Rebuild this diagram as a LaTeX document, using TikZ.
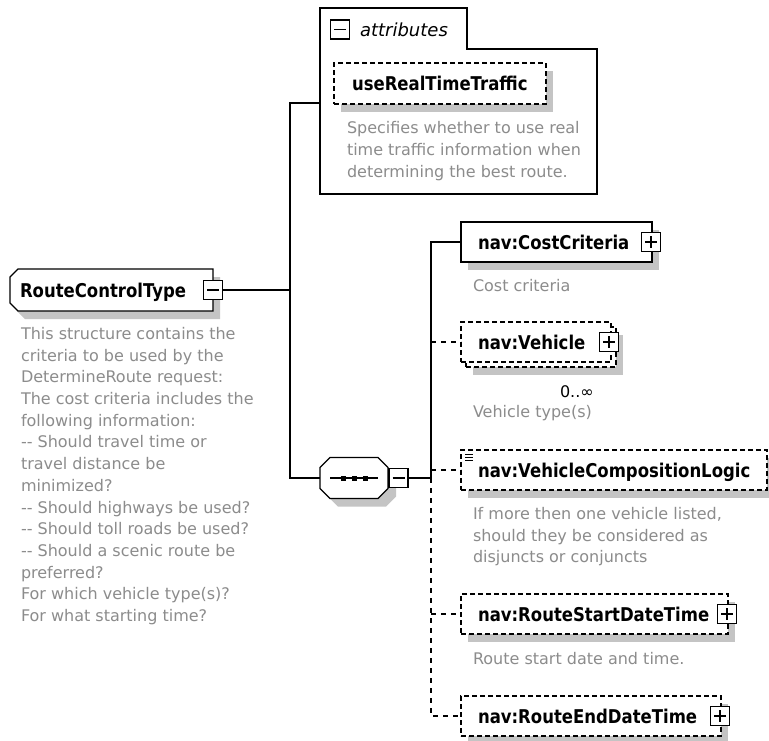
\documentclass[tikz,border=0pt]{standalone}
\usepackage{fontspec}
\setmainfont{DejaVu Sans}
\usepackage{graphicx}
\usetikzlibrary{calc,shadows}
\definecolor{shadowgray}{RGB}{196,196,196}
\definecolor{descgray}{RGB}{140,140,140}
\newcommand{\nmtxt}[1]{\scalebox{1}[1.15]{#1}}
\begin{document}
\begin{tikzpicture}[x=1pt,y=-1pt,
  every node/.style={inner sep=0pt, outer sep=0pt},
  line/.style={line width=1.3pt, black},
  dline/.style={line width=1.3pt, black, dash pattern=on 5pt off 5pt},
  shadowed/.style={drop shadow={shadow xshift=7pt, shadow yshift=-8pt, fill=shadowgray, opacity=1, draw=none}},
  elembox/.style={draw=black, line width=1.3pt, fill=white, rectangle, minimum height=40pt},
  optbox/.style={elembox, dash pattern=on 5pt off 3pt},
  holder/.style={draw=none, rectangle},
  pmbox/.style={draw=black, line width=1.3pt, fill=white, rectangle, minimum width=19pt, minimum height=19pt},
  nametext/.style={anchor=base west, font=\fontsize{16.5}{18}\selectfont\bfseries},
  desctext/.style={anchor=north west, align=left, text=descgray, font=\fontsize{16}{21.7}\selectfont},
  descline/.style={anchor=base west, text=descgray, font=\fontsize{16}{21.7}\selectfont},
]
\useasboundingbox (0,0) rectangle (769,740);
\fill[white] (0,0) rectangle (769,740);

% ---------- root ----------
\node[holder, minimum width=203pt, minimum height=42pt] (root) at (111.5,290) {};
\fill[shadowgray, shift={(7,8)}] (18,269) -- (213,269) -- (213,311) -- (18,311) -- (10,303) -- (10,277) -- cycle;
\draw[line, fill=white] (18,269) -- (213,269) -- (213,311) -- (18,311) -- (10,303) -- (10,277) -- cycle;
\node[nametext] (roottxt) at (20,297) {\nmtxt{RouteControlType}};
\node[pmbox] (rootpm) at (213,290) {};
\draw[line] ($(rootpm.center)+(-6,0)$) -- ($(rootpm.center)+(6,0)$);
\node[desctext] (rootdesc) at (21,327.3) {This structure contains the\\criteria to be used by the\\DetermineRoute request:\\The cost criteria includes the\\following information:\\-{}- Should travel time or\\travel distance be\\minimized?\\-{}- Should highways be used?\\-{}- Should toll roads be used?\\-{}- Should a scenic route be\\preferred?\\For which vehicle type(s)?\\For what starting time?};

% ---------- attributes ----------
\node[holder, minimum width=277pt, minimum height=186pt] (attr) at (458.5,101) {};
\draw[line, fill=white] (320,194) -- (320,8) -- (467,8) -- (467,49) -- (597,49) -- (597,194) -- cycle;
\node[pmbox] (attrpm) at (340,29.5) {};
\draw[line] ($(attrpm.center)+(-6,0)$) -- ($(attrpm.center)+(6,0)$);
\node[anchor=base west, font=\fontsize{18}{20}\selectfont\itshape] (attrlbl) at (360,36) {attributes};
\node[optbox, shadowed, minimum width=212pt, minimum height=41pt] (urt) at (440,83.5) {};
\node[nametext] (urttxt) at (352,90) {\nmtxt{useRealTimeTraffic}};
\node[desctext] (urtdesc) at (347,121.8) {Specifies whether to use real\\time traffic information when\\determining the best route.};

% ---------- sequence ----------
\node[holder, minimum width=68pt, minimum height=41pt] (seq) at (354,478) {};
\fill[shadowgray, shift={(8,8)}] (330,457.5) -- (378,457.5) -- (388,467.5) -- (388,488.5) -- (378,498.5) -- (330,498.5) -- (320,488.5) -- (320,467.5) -- cycle;
\draw[line, fill=white] (330,457.5) -- (378,457.5) -- (388,467.5) -- (388,488.5) -- (378,498.5) -- (330,498.5) -- (320,488.5) -- (320,467.5) -- cycle;
\draw[line] (330,478) -- (378,478);
\fill (340.5,475.5) rectangle (345.5,480.5);
\fill (351.5,475.5) rectangle (356.5,480.5);
\fill (362.5,475.5) rectangle (367.5,480.5);
\node[pmbox] (seqpm) at (398.5,478) {};
\draw[line] ($(seqpm.center)+(-6,0)$) -- ($(seqpm.center)+(6,0)$);

% ---------- children ----------
\node[elembox, shadowed, minimum width=191pt] (cc) at (556.5,242) {};
\node[nametext] (cctxt) at (478,249) {\nmtxt{nav:CostCriteria}};
\node[pmbox] (ccpm) at (651,242) {};
\draw[line] ($(ccpm.center)+(-6,0)$) -- ($(ccpm.center)+(6,0)$);
\draw[line] ($(ccpm.center)+(0,-6)$) -- ($(ccpm.center)+(0,6)$);
\node[descline] (ccdesc) at (473,291.5) {Cost criteria};

\node[optbox, shadowed, minimum width=150pt] (vehb) at (541,347) {};
\node[optbox, minimum width=150pt] (veh) at (536,342) {};
\node[nametext] (vehtxt) at (478,349) {\nmtxt{nav:Vehicle}};
\node[pmbox] (vehpm) at (609,342) {};
\draw[line] ($(vehpm.center)+(-6,0)$) -- ($(vehpm.center)+(6,0)$);
\draw[line] ($(vehpm.center)+(0,-6)$) -- ($(vehpm.center)+(0,6)$);
\node[anchor=base west, font=\fontsize{16}{18}\selectfont] (vehocc) at (560,397.5) {0..∞};
\node[descline] (vehdesc) at (473,417.5) {Vehicle type(s)};

\node[optbox, shadowed, minimum width=306pt] (vcl) at (614,470) {};
\draw[line width=0.8pt] (465,454) -- (473,454) (465,457) -- (473,457) (465,460) -- (473,460);
\node[nametext] (vcltxt) at (478,477) {\nmtxt{nav:VehicleCompositionLogic}};
\node[desctext] (vcldesc) at (473,507.2) {If more then one vehicle listed,\\should they be considered as\\disjuncts or conjuncts};

\node[optbox, shadowed, minimum width=267pt] (rs) at (594.5,614) {};
\node[nametext] (rstxt) at (478,621) {\nmtxt{nav:RouteStartDateTime}};
\node[pmbox] (rspm) at (727,614) {};
\draw[line] ($(rspm.center)+(-6,0)$) -- ($(rspm.center)+(6,0)$);
\draw[line] ($(rspm.center)+(0,-6)$) -- ($(rspm.center)+(0,6)$);
\node[descline] (rsdesc) at (473,664.5) {Route start date and time.};

\node[optbox, shadowed, minimum width=260pt] (re) at (591,716) {};
\node[nametext] (retxt) at (478,723) {\nmtxt{nav:RouteEndDateTime}};
\node[pmbox] (repm) at (720,716) {};
\draw[line] ($(repm.center)+(-6,0)$) -- ($(repm.center)+(6,0)$);
\draw[line] ($(repm.center)+(0,-6)$) -- ($(repm.center)+(0,6)$);

% ---------- connectors ----------
\coordinate (ja) at (290,103);
\coordinate (jb) at (290,478);
\coordinate (vm) at (431,478);
\draw[line] (rootpm.east) -- (rootpm.east -| ja);
\draw[line] (attr.west |- ja) -- (ja) -- (jb) -- (seq.west);
\draw[line] (seqpm.east) -- (vm);
\draw[line] (vm) |- (cc.west);
\draw[dline] (vm) |- (re.west);
\draw[dline] (veh.west -| vm) -- (veh.west);
\draw[dline] (vcl.west -| vm) -- (vcl.west);
\draw[dline] (rs.west -| vm) -- (rs.west);
\end{tikzpicture}
\end{document}
